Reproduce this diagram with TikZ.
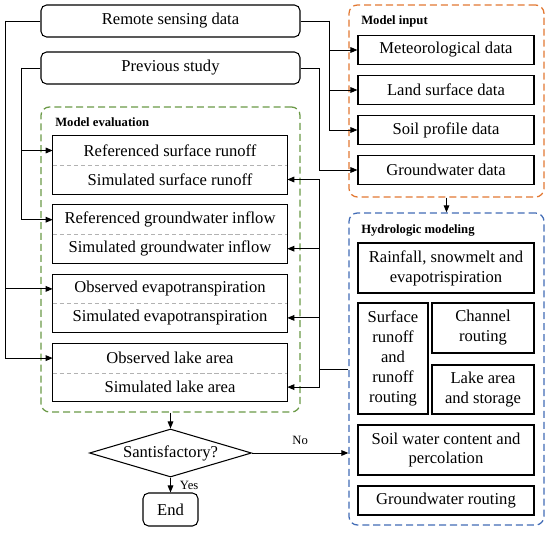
\documentclass[tikz,border=0pt]{standalone}
\usepackage{fontspec}
\setmainfont{Liberation Serif}
\usetikzlibrary{positioning,shapes.geometric,arrows.meta,calc}
\definecolor{evalgreen}{RGB}{106,153,70}
\definecolor{inputorange}{RGB}{226,120,50}
\definecolor{hydroblue}{RGB}{66,108,182}
\newcommand{\boxfont}{\fontsize{11.8}{14.2}\selectfont}
\newcommand{\ttlfont}{\fontsize{9}{11}\selectfont}

\begin{document}
\begin{tikzpicture}[
    frame/.style={dash pattern=on 5pt off 2.8pt, line width=0.9pt,
      rounded corners=6pt, inner sep=0pt},
    src/.style={draw=black, line width=0.75pt, rounded corners=4pt,
      minimum width=6.475cm, minimum height=0.8cm, font=\boxfont},
    half/.style={minimum width=5.85cm, minimum height=0.725cm,
      inner sep=0pt, font=\boxfont},
    box/.style={draw=black, line width=0.75pt, align=center, inner sep=0pt,
      font=\boxfont},
    pair/.style={draw=black, line width=0.75pt},
    divider/.style={draw=gray!60, dash pattern=on 3pt off 2pt, line width=0.5pt},
    ttl/.style={anchor=west, font=\ttlfont\bfseries, inner sep=0pt},
    line/.style={line width=0.7pt},
    arrow/.style={-{Triangle[length=5pt,width=4pt]}, line width=0.7pt}
  ]
    \useasboundingbox (0,0) rectangle (13.75,13.3);
    % sources
    \node[src] (RS) at (4.2625,12.775) {Remote sensing data};
    \node[src] (PS) at (4.2625,11.6) {Previous study};
    % model evaluation
    \node[frame, draw=evalgreen, minimum width=6.475cm, minimum height=7.625cm]
      (EVAL) at (4.2625,6.8125) {};
    \node[ttl] at (1.375,10.25) {Model evaluation};
    \node[half] (REFSR) at (4.25,9.5375) {Referenced surface runoff};
    \node[half] (SIMSR) at (4.25,8.8125) {Simulated surface runoff};
    \node[half] (REFGW) at (4.25,7.8075) {Referenced groundwater inflow};
    \node[half] (SIMGW) at (4.25,7.0825) {Simulated groundwater inflow};
    \node[half] (OBSET) at (4.25,6.0775) {Observed evapotranspiration};
    \node[half] (SIMET) at (4.25,5.3525) {Simulated evapotranspiration};
    \node[half] (OBSLA) at (4.25,4.3475) {Observed lake area};
    \node[half] (SIMLA) at (4.25,3.6225) {Simulated lake area};
    \draw[pair] (REFSR.north west) rectangle (SIMSR.south east);
    \draw[pair] (REFGW.north west) rectangle (SIMGW.south east);
    \draw[pair] (OBSET.north west) rectangle (SIMET.south east);
    \draw[pair] (OBSLA.north west) rectangle (SIMLA.south east);
    \draw[divider] (REFSR.south west) -- (REFSR.south east);
    \draw[divider] (REFGW.south west) -- (REFGW.south east);
    \draw[divider] (OBSET.south west) -- (OBSET.south east);
    \draw[divider] (OBSLA.south west) -- (OBSLA.south east);
    % model input
    \node[frame, draw=inputorange, minimum width=4.875cm, minimum height=4.8cm]
      (INPUT) at (11.1625,10.775) {};
    \node[ttl] at (9.025,12.775) {Model input};
    \node[box, minimum width=4.4cm, minimum height=0.725cm] (MET) at (11.15,12.05)
      {Meteorological data};
    \node[box, minimum width=4.4cm, minimum height=0.725cm] (LAND) at (11.15,11.05)
      {Land surface data};
    \node[box, minimum width=4.4cm, minimum height=0.725cm] (SOIL) at (11.15,10.05)
      {Soil profile data};
    \node[box, minimum width=4.4cm, minimum height=0.725cm] (GWD) at (11.15,9.05)
      {Groundwater data};
    % hydrologic modeling
    \node[frame, draw=hydroblue, minimum width=4.875cm, minimum height=7.8cm]
      (HYDRO) at (11.1625,4.075) {};
    \node[ttl] at (9.025,7.525) {Hydrologic modeling};
    \node[box, minimum width=4.4cm, minimum height=1.25cm] (RAIN) at (11.15,6.6)
      {Rainfall, snowmelt and\\evapotrispiration};
    \node[box, minimum width=1.75cm, minimum height=2.775cm] (SRO) at (9.825,4.3375)
      {Surface\\runoff\\and\\runoff\\routing};
    \node[box, minimum width=2.55cm, minimum height=1.25cm] (CHAN) at (12.075,5.1)
      {Channel\\routing};
    \node[box, minimum width=2.55cm, minimum height=1.225cm] (LAKE) at (12.075,3.5625)
      {Lake area\\and storage};
    \node[box, minimum width=4.4cm, minimum height=1.25cm] (SWC) at (11.15,2.05)
      {Soil water content and\\percolation};
    \node[box, minimum width=4.4cm, minimum height=0.725cm] (GWR) at (11.15,0.7875)
      {Groundwater routing};
    % decision
    \node[draw=black, diamond, aspect=3.4, minimum width=4.05cm, minimum height=1.2cm,
      inner sep=0pt, line width=0.75pt, font=\boxfont] (DIA) at (4.2625,1.975)
      {Santisfactory?};
    \node[src, minimum width=1.375cm, minimum height=0.825cm] (END) at (4.2625,0.5625)
      {End};
    % bus lines
    \coordinate (BUSA) at (0.125,0);
    \coordinate (BUSB) at (0.525,0);
    \coordinate (BUSC) at (8.225,0);
    \coordinate (BUSD) at (7.975,0);
    \draw[line] (RS.west) -- (RS.west -| BUSA);
    \draw[arrow] (RS.west -| BUSA) |- (OBSET.west);
    \draw[arrow] (RS.west -| BUSA) |- (OBSLA.west);
    \draw[line] (PS.west) -- (PS.west -| BUSB);
    \draw[arrow] (PS.west -| BUSB) |- (REFSR.west);
    \draw[arrow] (PS.west -| BUSB) |- (REFGW.west);
    \draw[line] (RS.east) -- (RS.east -| BUSC);
    \draw[arrow] (RS.east -| BUSC) |- (MET.west);
    \draw[arrow] (RS.east -| BUSC) |- (LAND.west);
    \draw[arrow] (RS.east -| BUSC) |- (SOIL.west);
    \draw[arrow] (PS.east) -| (BUSD |- GWD.west) -- (GWD.west);
    \draw[arrow] (INPUT.south) -- (HYDRO.north);
    \draw[line] (HYDRO.west) -- (HYDRO.west -| BUSD);
    \draw[arrow] (HYDRO.west -| BUSD) |- (SIMSR.east);
    \draw[arrow] (HYDRO.west -| BUSD) |- (SIMGW.east);
    \draw[arrow] (HYDRO.west -| BUSD) |- (SIMET.east);
    \draw[arrow] (HYDRO.west -| BUSD) |- (SIMLA.east);
    \draw[arrow] (EVAL.south) -- (DIA.north);
    \draw[arrow] (DIA.east) -- (DIA.east -| HYDRO.west)
      node[midway, above=2pt, font=\ttlfont] {No};
    \draw[arrow] (DIA.south) -- (END.north)
      node[midway, right=3pt, font=\ttlfont] {Yes};
  \end{tikzpicture}
\end{document}
